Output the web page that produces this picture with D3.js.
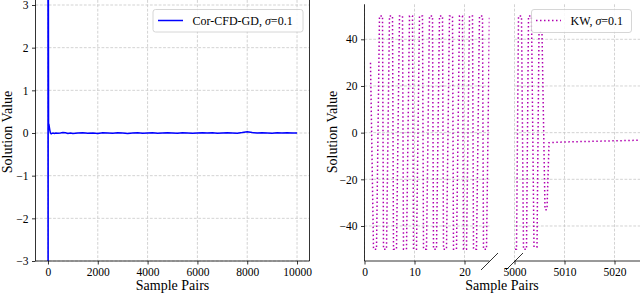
<!DOCTYPE html>
<html>
<head>
<meta charset="utf-8">
<script src="https://cdn.jsdelivr.net/npm/d3@7"></script>
<style>
  body { margin: 0; background: #fff; }
  svg text { font-family: "Liberation Serif", "Times New Roman", serif; fill: #000; }
</style>
</head>
<body>
<div id="chart"></div>
<script>
// Left panel: Cor-CFD-GD, sigma = 0.1
const cfdX = [0, 6, 12, 24, 40, 60, 80, 100, 130, 160, 200, 260, 320, 400, 500, 600, 700, 800, 900,
              1000, 1200, 1400, 1600, 1800, 2000, 2200, 2400, 2600, 2800, 3000, 3200, 3400, 3600,
              3800, 4000, 4200, 4400, 4600, 4800, 5000, 5200, 5400, 5600, 5800, 6000, 6200, 6400,
              6600, 6800, 7000, 7200, 7400, 7600, 7800, 8000, 8200, 8400, 8600, 8800, 9000, 9200,
              9400, 9600, 9800, 10000];
const cfdY = [9.0, -9.0, 6.0, 0.22, 0.2, 0.12, 0.05, 0.0, -0.02, -0.01, 0.0, -0.01, 0.0, -0.005, 0.0, 0.01, 0.005, -0.01, 0.0,
              -0.01, 0.0, 0.005, -0.005, 0.0, -0.01, 0.005, 0.0, -0.005, 0.005, 0.0, -0.01, 0.0, 0.005,
              -0.005, 0.0, 0.005, -0.005, 0.0, 0.005, 0.0, -0.005, 0.005, 0.0, -0.005, 0.0, 0.005, 0.0,
              0.005, -0.005, 0.0, 0.005, 0.0, -0.005, 0.01, 0.03, 0.01, 0.0, 0.005, 0.0, -0.005, 0.005,
              0.0, 0.005, 0.0, 0.0];
const cfdXTicks = [0, 2000, 4000, 6000, 8000, 10000];
const cfdYTicks = [-3, -2, -1, 0, 1, 2, 3];

// Right panel: KW, sigma = 0.1 (broken x axis)
const kwX = [1.2, 1.8, 2.4, 3, 3.6, 3.8, 4.4, 5, 5.6, 5.8, 6.4, 7, 7.6, 7.8, 8.4, 9, 9.6,
             9.8, 10.4, 11, 11.6, 11.8, 12.4, 13, 13.6, 13.8, 14.4, 15, 15.6, 15.8, 16.4, 17, 17.6,
             17.8, 18.4, 19, 19.6, 19.8, 20.4, 21, 21.6, 21.8, 22.4, 23, 23.6, 23.8, 24.4, 25, 25.6,
             5000, 5000.4, 5000.8, 5001.4, 5001.8, 5002.4, 5002.8, 5003.4, 5003.9, 5004.5, 5004.9, 5005.5,
             5006.1, 5006.5, 5006.9, 5008, 5009, 5010, 5011, 5012, 5013, 5014, 5015, 5016, 5017, 5018,
             5019, 5020, 5021, 5022, 5023, 5024, 5025];
const kwY = [30, -50, -50, 50, 50, -50, -50, 50, 50, -50, -50, 50, 50, -50, -50, 50, 50,
             -50, -50, 50, 50, -50, -50, 50, 50, -50, -50, 50, 50, -50, -50, 50, 50,
             -50, -50, 50, 50, -50, -50, 50, 50, -50, -50, 50, 50, -50, -50, 50, 50,
             -50, -50, 50, 50, -50, -50, 50, 50, -49, -49, 43, 43,
             -33, -33, -4.3, -4.2, -4.1, -4.0, -3.95, -3.9, -3.85, -3.8, -3.75, -3.7, -3.65, -3.6,
             -3.55, -3.5, -3.45, -3.4, -3.35, -3.3, -3.25];
const kwXTicksA = [0, 10, 20];
const kwXTicksB = [5000, 5010, 5020];
const kwYTicks = [-40, -20, 0, 20, 40];

const svg = d3.select("#chart").append("svg")
  .attr("width", 640)
  .attr("height", 294);

const gridStyle = (sel) => sel.attr("stroke", "#c8c8c8").attr("stroke-width", 0.8)
  .attr("stroke-dasharray", "2.8,1.6");

function styleAxis(g) {
  g.attr("font-family", null).attr("font-size", null);
  g.select(".domain").remove();
  g.selectAll(".tick line").attr("stroke", "#000").attr("stroke-width", 0.8);
  g.selectAll(".tick text").style("font-size", "11.5px")
    .style("font-family", "'Liberation Serif', 'Times New Roman', serif").attr("fill", "#000");
}

const defs = svg.append("defs");
function clip(id, x0, x1, y0, y1) {
  defs.append("clipPath").attr("id", id).append("rect")
    .attr("x", x0).attr("y", y0).attr("width", x1 - x0).attr("height", y1 - y0);
  return "url(#" + id + ")";
}

// ---------- left panel ----------
const lx = d3.scaleLinear().domain([-500, 10500]).range([35.5, 309.5]);
const ly = d3.scaleLinear().domain([-3, 3]).range([261, 5]);
const left = svg.append("g");

left.append("g").selectAll("line").data(cfdXTicks).join("line")
  .attr("x1", d => lx(d)).attr("x2", d => lx(d)).attr("y1", 0).attr("y2", 261).call(gridStyle);
left.append("g").selectAll("line").data(cfdYTicks).join("line")
  .attr("x1", 35.5).attr("x2", 309.5).attr("y1", d => ly(d)).attr("y2", d => ly(d)).call(gridStyle);

left.append("path")
  .datum(cfdX.map((x, i) => [x, cfdY[i]]))
  .attr("clip-path", clip("clipL", 35.5, 309.5, 0, 261))
  .attr("fill", "none").attr("stroke", "#0000ff").attr("stroke-width", 1.5)
  .attr("d", d3.line().x(d => lx(d[0])).y(d => ly(d[1])));

left.append("g").attr("transform", "translate(0,261)")
  .call(d3.axisBottom(lx).tickValues(cfdXTicks).tickFormat(d3.format("d")).tickSize(3.5).tickPadding(3.5))
  .call(styleAxis);
left.append("g").attr("transform", "translate(35.5,0)")
  .call(d3.axisLeft(ly).tickValues(cfdYTicks).tickFormat(d3.format("d")).tickSize(3.5).tickPadding(3.5))
  .call(styleAxis);

[[35.5, 0, 35.5, 261], [309.5, 0, 309.5, 261], [35.5, 261, 309.5, 261]].forEach(s => {
  left.append("line").attr("x1", s[0]).attr("y1", s[1]).attr("x2", s[2]).attr("y2", s[3])
    .attr("stroke", "#000").attr("stroke-width", 0.8);
});

left.append("text").attr("x", 172.5).attr("y", 290).attr("text-anchor", "middle")
  .style("font-size", "14px").text("Sample Pairs");
left.append("text").attr("transform", "translate(12,132) rotate(-90)").attr("text-anchor", "middle")
  .style("font-size", "14px").text("Solution Value");

// legend
const legL = left.append("g");
legL.append("rect").attr("x", 153).attr("y", 9.5).attr("width", 150).attr("height", 22.5)
  .attr("rx", 2.5).attr("fill", "#fff").attr("fill-opacity", 0.85).attr("stroke", "#ccc").attr("stroke-width", 0.8);
legL.append("line").attr("x1", 158).attr("x2", 183).attr("y1", 20.5).attr("y2", 20.5)
  .attr("stroke", "#0000ff").attr("stroke-width", 1.5);
const tL = legL.append("text").attr("x", 192.5).attr("y", 25).style("font-size", "12px");
tL.append("tspan").text("Cor-CFD-GD, ");
tL.append("tspan").style("font-style", "italic").text("σ");
tL.append("tspan").text("=0.1");

// ---------- right panel ----------
const ry = d3.scaleLinear().domain([-55, 55]).range([261, 4.3]);
const rxA = d3.scaleLinear().domain([0, 25]).range([364.5, 489.5]);
const rxB = d3.scaleLinear().domain([5000, 5025]).range([514.5, 639.5]);
const right = svg.append("g");

[[rxA, kwXTicksA, 364.5, 489.5, "clipA"], [rxB, kwXTicksB, 514.5, 640, "clipB"]].forEach(p => {
  const [sx, ticks, x0, x1, id] = p;
  right.append("g").selectAll("line").data(ticks).join("line")
    .attr("x1", d => sx(d)).attr("x2", d => sx(d)).attr("y1", 4.3).attr("y2", 261).call(gridStyle);
  right.append("g").selectAll("line").data(kwYTicks).join("line")
    .attr("x1", x0).attr("x2", x1).attr("y1", d => ry(d)).attr("y2", d => ry(d)).call(gridStyle);
  right.append("path")
    .datum(kwX.map((x, i) => [x, kwY[i]]))
    .attr("clip-path", clip(id, x0, x1, 4.3, 261))
    .attr("fill", "none").attr("stroke", "#b000b0").attr("stroke-width", 1.5)
    .attr("stroke-dasharray", "1.5,2.5")
    .attr("d", d3.line().x(d => sx(d[0])).y(d => ry(d[1])));
  right.append("g").attr("transform", "translate(0,261)")
    .call(d3.axisBottom(sx).tickValues(ticks).tickFormat(d3.format("d")).tickSize(3.5).tickPadding(3.5))
    .call(styleAxis);
  right.append("line").attr("x1", x0).attr("x2", x1).attr("y1", 261).attr("y2", 261)
    .attr("stroke", "#000").attr("stroke-width", 0.8);
});

right.append("g").attr("transform", "translate(364.5,0)")
  .call(d3.axisLeft(ry).tickValues(kwYTicks).tickFormat(d3.format("d")).tickSize(3.5).tickPadding(3.5))
  .call(styleAxis);
right.append("line").attr("x1", 364.5).attr("x2", 364.5).attr("y1", 4.3).attr("y2", 261)
  .attr("stroke", "#000").attr("stroke-width", 0.8);

// break marks
[489.5, 514.5].forEach(cx => {
  right.append("line").attr("x1", cx - 8.5).attr("y1", 270).attr("x2", cx + 8.5).attr("y2", 253)
    .attr("stroke", "#000").attr("stroke-width", 0.8);
});

right.append("text").attr("x", 502).attr("y", 290).attr("text-anchor", "middle")
  .style("font-size", "14px").text("Sample Pairs");
right.append("text").attr("transform", "translate(337,132) rotate(-90)").attr("text-anchor", "middle")
  .style("font-size", "14px").text("Solution Value");

const legR = right.append("g");
legR.append("rect").attr("x", 531.5).attr("y", 9.5).attr("width", 100).attr("height", 23)
  .attr("rx", 2.5).attr("fill", "#fff").attr("fill-opacity", 0.85).attr("stroke", "#ccc").attr("stroke-width", 0.8);
legR.append("line").attr("x1", 536).attr("x2", 561).attr("y1", 20.5).attr("y2", 20.5)
  .attr("stroke", "#b000b0").attr("stroke-width", 1.5).attr("stroke-dasharray", "1.5,2.5");
const tR = legR.append("text").attr("x", 570.5).attr("y", 25).style("font-size", "12px");
tR.append("tspan").text("KW, ");
tR.append("tspan").style("font-style", "italic").text("σ");
tR.append("tspan").text("=0.1");
</script>
</body>
</html>
